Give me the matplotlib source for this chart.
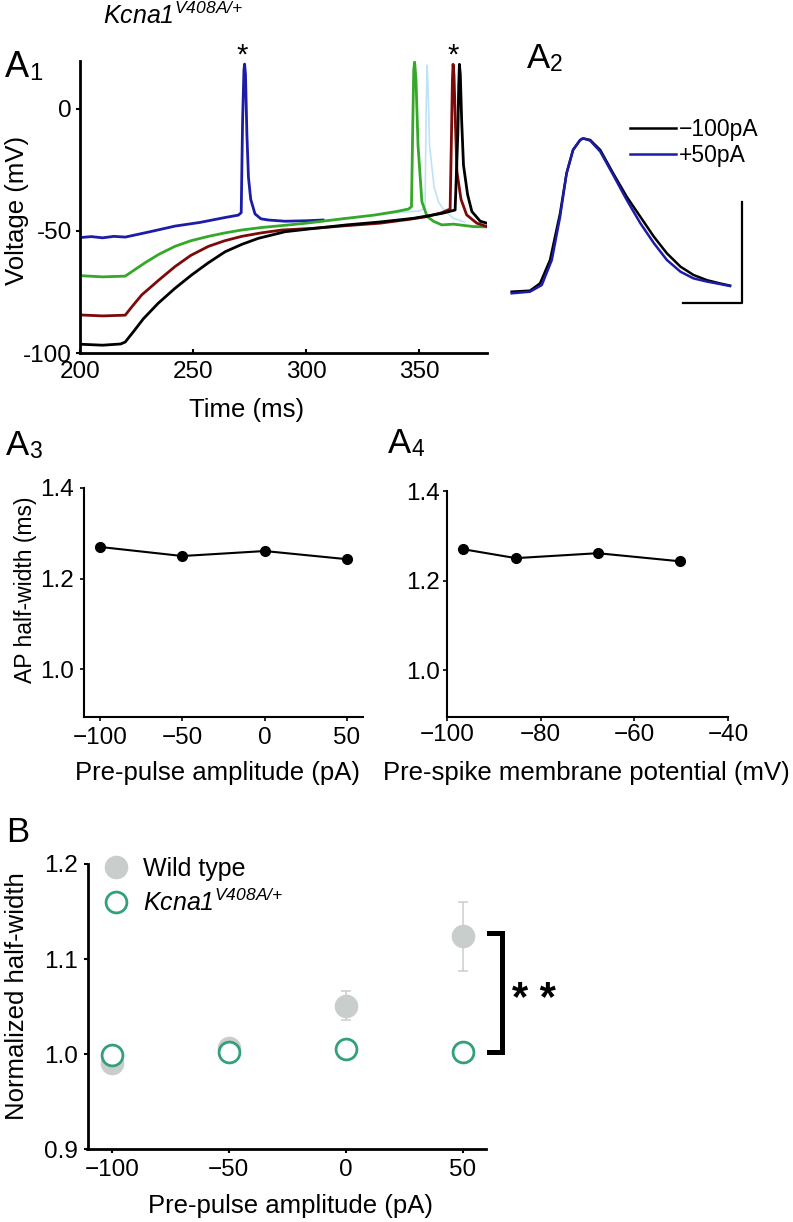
import numpy as np
import matplotlib
matplotlib.use("Agg")
import matplotlib.pyplot as plt

plt.rcParams['font.family'] = ['Liberation Sans', 'DejaVu Sans']
plt.rcParams['mathtext.fontset'] = 'custom'
plt.rcParams['mathtext.rm'] = 'Liberation Sans'
plt.rcParams['mathtext.sf'] = 'Liberation Sans:italic'

W, H = 793, 1222

# ---- A1: voltage traces (time ms, voltage mV)
t_lblue = [300, 315, 330, 340, 350, 352.6, 353.1, 353.5, 353.9, 354.6, 356.6, 358.5, 360.6, 365, 370]
v_lblue = [-46.5, -45, -43.5, -42.5, -41.8, -40.5, 0, 18, 10, -15, -32, -38, -41, -44.7, -46.3]

t_blue = [200, 205, 210, 215, 220, 230, 242, 253, 264, 270, 271.3, 271.9, 272.5, 272.8, 273.2,
          273.8, 274.5, 275.5, 277.4, 280, 283.3, 290.7, 300, 307.5]
v_blue = [-52.7, -52.3, -52.8, -52.2, -52.5, -50.5, -48, -46.5, -44.5, -43.5, -42.5, -5, 16, 18.4, 14,
          -10, -28, -37, -43, -45, -45.5, -46, -45.8, -45.5]

t_green = [200, 210, 220, 224, 228.8, 235, 242, 249, 256.8, 264, 271.5, 280, 289.2, 300, 318, 330, 340,
           345.3, 346.6, 347.2, 347.6, 348.0, 348.6, 349.5, 351.2, 353.5, 356.3, 360, 365.2, 374, 380]
v_green = [-68.3, -68.8, -68.5, -66, -63, -59.5, -56.3, -54, -52.2, -50.8, -49.6, -48.6, -47.8, -46.8, -44.8,
           -43.5, -42, -41, -40, -5, 16, 19.2, 12, -15, -38, -44, -46, -47.5, -47.2, -48.2, -48.3]

t_red = [200, 210, 220, 223, 227.3, 235, 242, 249, 256.8, 264, 271.5, 280, 289.2, 303.3, 318, 332.7, 345,
         353.4, 360, 363.7, 364.3, 364.7, 365.0, 365.4, 366, 366.7, 368.5, 371, 375.5, 380]
v_red = [-84.4, -84.8, -84.5, -81, -76.2, -70, -64.6, -60, -56.3, -54, -52.2, -50.8, -49.6, -48.9, -47.8,
         -46.8, -45.3, -44.1, -42.5, -41, -10, 12, 18.3, 14, -5, -25.7, -37, -43.4, -46.8, -48.2]

t_black = [200, 210, 218, 220, 223.6, 228, 234.6, 242, 249.4, 256.8, 264.2, 271.5, 278.9, 290.7, 303, 318,
           332.7, 347.5, 360, 365.9, 367.1, 367.5, 367.8, 368.2, 368.8, 369.6, 371.4, 373.3, 377, 380]
v_black = [-96.4, -96.8, -96.3, -95.5, -91.3, -86, -79.6, -73.5, -68, -63, -58.5, -55.5, -53, -50.3, -49,
           -47.5, -46.3, -44.8, -42.8, -41.4, -10, 10, 18.3, 14, -5, -23, -35, -42, -46, -46.8]

a1_xticks = [200, 250, 300, 350]
a1_yticks = [-100, -50, 0]
a1_yticklabels = ['-100', '-50', '0']

# ---- A2: overlaid action potentials (ms, mV)
t_ap = [0, 0.31, 0.48, 0.65, 0.82, 0.93, 1.04, 1.16, 1.21, 1.33, 1.50, 1.72, 1.95, 2.18, 2.41, 2.63,
        2.86, 3.08, 3.31, 3.53, 3.70]
v_ap_m100 = [-60, -59.5, -55.9, -44.3, -21.2, -1.4, 10.2, 15.1, 15.9, 15.1, 10.2, -1.4, -13.0, -22.9,
             -32.8, -41.0, -47.6, -51.7, -54.3, -55.9, -57.0]
t_ap_p50 = [0, 0.31, 0.51, 0.68, 0.82, 0.93, 1.04, 1.16, 1.21, 1.33, 1.50, 1.72, 1.95, 2.18, 2.41, 2.63,
            2.86, 3.08, 3.31, 3.53, 3.70]
v_ap_p50 = [-60.8, -60, -56.7, -44.3, -22.9, -1.4, 10.2, 15.1, 15.9, 14.8, 9.4, -2.2, -14.6, -26.1,
            -36.0, -44.3, -50.1, -53.4, -55.0, -56.2, -57.2]
ap_labels = ['\u2212100pA', '+50pA']

# ---- A3 / A4
pre_pulse = [-100, -50, 0, 50]
half_width = [1.270, 1.250, 1.261, 1.243]
pre_spike_vm = [-96.6, -85.3, -67.8, -50.3]

# ---- B
wt_mean = [0.991, 1.007, 1.051, 1.124]
wt_err = [0.005, 0.005, 0.0155, 0.0365]
kv_mean = [0.999, 1.002, 1.005, 1.002]
genotype = r'$\mathsf{Kcna1}^{\mathsf{V408A/{+}}}$'
b_labels = ['Wild type', genotype]

c_blue = '#1c1ca8'
c_green = '#35a829'
c_red = '#7d0a0a'
c_lblue = '#bfe2f4'
c_gray = '#c9cecd'
c_teal = '#33a07c'


def rect(left, top, right, bottom):
    return [left / W, 1 - bottom / H, (right - left) / W, (bottom - top) / H]


def ftext(x, y, s, **kw):
    fig.text(x / W, 1 - y / H, s, **kw)


def panel_label(x, y, letter, sub=None, size=25):
    ftext(x, y, letter, fontsize=size, va='baseline')
    if sub:
        ftext(x + size * 0.93, y + 3, sub, fontsize=size * 0.66, va='baseline')


def style_axes(ax, lw):
    for s in ['top', 'right']:
        ax.spines[s].set_visible(False)
    for s in ['left', 'bottom']:
        ax.spines[s].set_linewidth(lw)


fig = plt.figure(figsize=(W / 100, H / 100), dpi=100)

# A1
ax1 = fig.add_axes(rect(80, 61.4, 487, 353))
ax1.plot(t_lblue, v_lblue, color=c_lblue, lw=1.2)
ax1.plot(t_blue, v_blue, color=c_blue, lw=2.0)
ax1.plot(t_green, v_green, color=c_green, lw=2.0)
ax1.plot(t_red, v_red, color=c_red, lw=2.0)
ax1.plot(t_black, v_black, color='black', lw=2.0)
ax1.set_xlim(200, 380)
ax1.set_ylim(-100, 19.5)
ax1.set_xticks(a1_xticks)
ax1.set_yticks(a1_yticks)
ax1.set_yticklabels(a1_yticklabels)
style_axes(ax1, 2.0)
ax1.tick_params(axis='both', labelsize=17.5, length=3, width=1.5, pad=3)
ax1.tick_params(axis='x', direction='in', pad=6)
ax1.text(271.7, 22, '*', fontsize=21, ha='center', va='center', clip_on=False)
ax1.text(365, 22, '*', fontsize=21, ha='center', va='center', clip_on=False)
ftext(247, 410, 'Time (ms)', fontsize=18.5, ha='center', va='center')
ftext(17, 210, 'Voltage (mV)', fontsize=18.5, ha='center', va='center', rotation=90)
ftext(103, 24, genotype, fontsize=18, va='baseline')

# A2
ax2 = fig.add_axes(rect(500, 100, 760, 310))
ax2.plot(t_ap, v_ap_m100, color='black', lw=1.8, label=ap_labels[0])
ax2.plot(t_ap_p50, v_ap_p50, color=c_blue, lw=1.8, label=ap_labels[1])
ax2.plot([2.90, 3.90, 3.90], [-65.6, -65.6, -15.6], color='black', lw=1.6)
ax2.set_xlim(-0.198, 4.208)
ax2.set_ylim(-69.06, 34.9)
ax2.axis('off')
ax2.legend(loc='upper left', bbox_to_anchor=(0.50, 0.915), frameon=False, fontsize=16.5,
           handlelength=2.0, handletextpad=0.15, labelspacing=0.12, borderpad=0, borderaxespad=0)

# A3
ax3 = fig.add_axes(rect(84, 488, 363, 717))
ax3.plot(pre_pulse, half_width, 'o-', color='black', lw=1.5, ms=7)
ax3.set_xlim(-109.7, 59.7)
ax3.set_ylim(0.895, 1.4)
ax3.set_xticks(pre_pulse)
ax3.set_yticks([1.0, 1.2, 1.4])
style_axes(ax3, 1.5)
ax3.tick_params(axis='both', labelsize=17.5, length=3, width=1.2, pad=4)
ftext(218, 773, 'Pre-pulse amplitude (pA)', fontsize=18.5, ha='center', va='center')
ftext(26, 590, 'AP half-width (ms)', fontsize=16.5, ha='center', va='center', rotation=90)

# A4
ax4 = fig.add_axes(rect(447, 491, 728, 717))
ax4.plot(pre_spike_vm, half_width, 'o-', color='black', lw=1.5, ms=7)
ax4.set_xlim(-100, -40)
ax4.set_ylim(0.895, 1.4)
ax4.set_xticks([-100, -80, -60, -40])
ax4.set_yticks([1.0, 1.2, 1.4])
style_axes(ax4, 1.5)
ax4.tick_params(axis='both', labelsize=17.5, length=3, width=1.2, pad=2)
ftext(586, 773, 'Pre-spike membrane potential (mV)', fontsize=18.5, ha='center', va='center')

# B
axb = fig.add_axes(rect(87.5, 864, 486, 1149.3))
eb = axb.errorbar(pre_pulse, wt_mean, yerr=wt_err, fmt='o', color=c_gray, ms=16, ecolor=c_gray,
                  elinewidth=1.1, capsize=3.5, capthick=1.1, zorder=2)
kv_line, = axb.plot(pre_pulse, kv_mean, 'o', mfc='white', mec=c_teal, mew=2, ms=15, zorder=3)
axb.set_xlim(-110.5, 60)
axb.set_ylim(0.9, 1.2)
axb.set_xticks(pre_pulse)
axb.set_yticks([0.9, 1.0, 1.1, 1.2])
style_axes(axb, 2.0)
axb.tick_params(axis='both', labelsize=17.5, length=3, width=1.5, pad=4)
axb.plot([61.4, 67, 67, 61.4], [1.127, 1.127, 1.002, 1.002], color='black', lw=3.6, clip_on=False,
         solid_joinstyle='miter')
axb.text(71.2, 1.057, '* *', fontsize=30, fontweight='bold', ha='left', va='center', clip_on=False)
axb.legend([eb[0], kv_line], b_labels, loc='upper left', bbox_to_anchor=(0.041, 1.024), frameon=False,
           fontsize=18, handlelength=1.0, handletextpad=0.55, labelspacing=0.3, borderpad=0,
           borderaxespad=0)
ftext(291, 1206, 'Pre-pulse amplitude (pA)', fontsize=18.5, ha='center', va='center')
ftext(17, 996, 'Normalized half-width', fontsize=18.5, ha='center', va='center', rotation=90)

panel_label(5, 77, 'A', '1', size=26)
panel_label(527, 68, 'A', '2', size=25)
panel_label(6, 455, 'A', '3', size=25)
panel_label(388, 453, 'A', '4', size=25)
panel_label(6, 842, 'B', size=25)

fig.savefig('out.png', dpi=100)
